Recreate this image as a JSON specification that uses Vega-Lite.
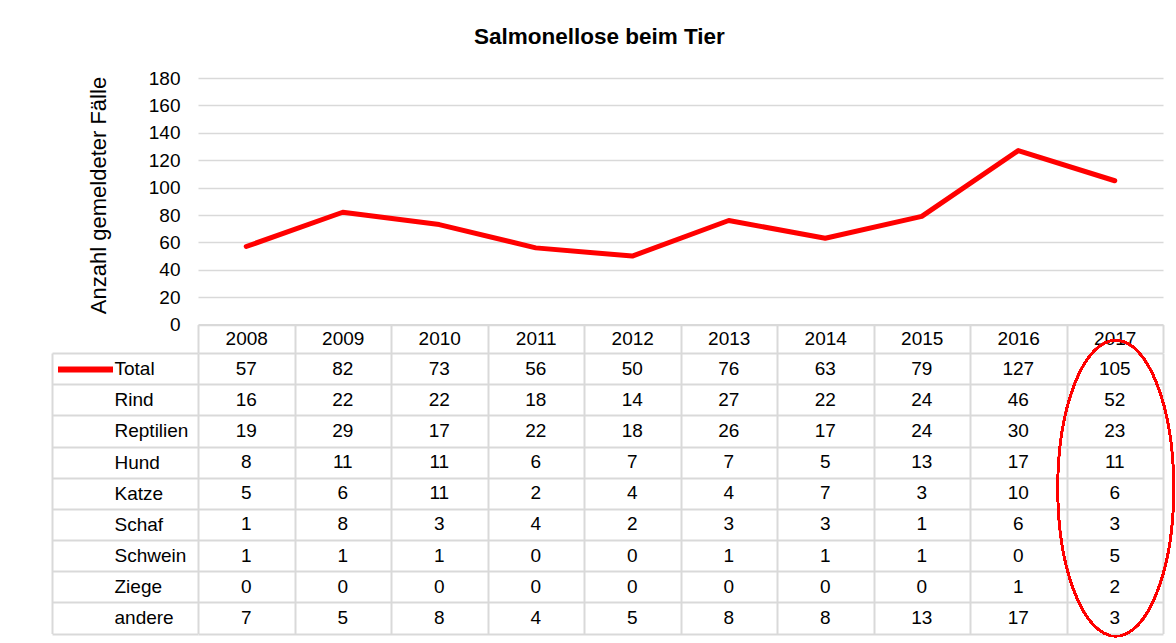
{
  "$schema": "https://vega.github.io/schema/vega-lite/v6.json",
  "padding": {"left": 51, "top": 25, "right": 0, "bottom": 0},
  "background": "white",
  "title": {"text": "Salmonellose beim Tier", "font": "Liberation Sans", "fontSize": 22.5, "fontWeight": "bold", "color": "#000000", "anchor": "middle", "offset": 21, "dx": -15},
  "datasets": {
    "table": [
      {"Tierart": "Total", "Jahr": "2008", "Faelle": 57}, {"Tierart": "Total", "Jahr": "2009", "Faelle": 82}, {"Tierart": "Total", "Jahr": "2010", "Faelle": 73}, {"Tierart": "Total", "Jahr": "2011", "Faelle": 56}, {"Tierart": "Total", "Jahr": "2012", "Faelle": 50}, {"Tierart": "Total", "Jahr": "2013", "Faelle": 76}, {"Tierart": "Total", "Jahr": "2014", "Faelle": 63}, {"Tierart": "Total", "Jahr": "2015", "Faelle": 79}, {"Tierart": "Total", "Jahr": "2016", "Faelle": 127}, {"Tierart": "Total", "Jahr": "2017", "Faelle": 105},
      {"Tierart": "Rind", "Jahr": "2008", "Faelle": 16}, {"Tierart": "Rind", "Jahr": "2009", "Faelle": 22}, {"Tierart": "Rind", "Jahr": "2010", "Faelle": 22}, {"Tierart": "Rind", "Jahr": "2011", "Faelle": 18}, {"Tierart": "Rind", "Jahr": "2012", "Faelle": 14}, {"Tierart": "Rind", "Jahr": "2013", "Faelle": 27}, {"Tierart": "Rind", "Jahr": "2014", "Faelle": 22}, {"Tierart": "Rind", "Jahr": "2015", "Faelle": 24}, {"Tierart": "Rind", "Jahr": "2016", "Faelle": 46}, {"Tierart": "Rind", "Jahr": "2017", "Faelle": 52},
      {"Tierart": "Reptilien", "Jahr": "2008", "Faelle": 19}, {"Tierart": "Reptilien", "Jahr": "2009", "Faelle": 29}, {"Tierart": "Reptilien", "Jahr": "2010", "Faelle": 17}, {"Tierart": "Reptilien", "Jahr": "2011", "Faelle": 22}, {"Tierart": "Reptilien", "Jahr": "2012", "Faelle": 18}, {"Tierart": "Reptilien", "Jahr": "2013", "Faelle": 26}, {"Tierart": "Reptilien", "Jahr": "2014", "Faelle": 17}, {"Tierart": "Reptilien", "Jahr": "2015", "Faelle": 24}, {"Tierart": "Reptilien", "Jahr": "2016", "Faelle": 30}, {"Tierart": "Reptilien", "Jahr": "2017", "Faelle": 23},
      {"Tierart": "Hund", "Jahr": "2008", "Faelle": 8}, {"Tierart": "Hund", "Jahr": "2009", "Faelle": 11}, {"Tierart": "Hund", "Jahr": "2010", "Faelle": 11}, {"Tierart": "Hund", "Jahr": "2011", "Faelle": 6}, {"Tierart": "Hund", "Jahr": "2012", "Faelle": 7}, {"Tierart": "Hund", "Jahr": "2013", "Faelle": 7}, {"Tierart": "Hund", "Jahr": "2014", "Faelle": 5}, {"Tierart": "Hund", "Jahr": "2015", "Faelle": 13}, {"Tierart": "Hund", "Jahr": "2016", "Faelle": 17}, {"Tierart": "Hund", "Jahr": "2017", "Faelle": 11},
      {"Tierart": "Katze", "Jahr": "2008", "Faelle": 5}, {"Tierart": "Katze", "Jahr": "2009", "Faelle": 6}, {"Tierart": "Katze", "Jahr": "2010", "Faelle": 11}, {"Tierart": "Katze", "Jahr": "2011", "Faelle": 2}, {"Tierart": "Katze", "Jahr": "2012", "Faelle": 4}, {"Tierart": "Katze", "Jahr": "2013", "Faelle": 4}, {"Tierart": "Katze", "Jahr": "2014", "Faelle": 7}, {"Tierart": "Katze", "Jahr": "2015", "Faelle": 3}, {"Tierart": "Katze", "Jahr": "2016", "Faelle": 10}, {"Tierart": "Katze", "Jahr": "2017", "Faelle": 6},
      {"Tierart": "Schaf", "Jahr": "2008", "Faelle": 1}, {"Tierart": "Schaf", "Jahr": "2009", "Faelle": 8}, {"Tierart": "Schaf", "Jahr": "2010", "Faelle": 3}, {"Tierart": "Schaf", "Jahr": "2011", "Faelle": 4}, {"Tierart": "Schaf", "Jahr": "2012", "Faelle": 2}, {"Tierart": "Schaf", "Jahr": "2013", "Faelle": 3}, {"Tierart": "Schaf", "Jahr": "2014", "Faelle": 3}, {"Tierart": "Schaf", "Jahr": "2015", "Faelle": 1}, {"Tierart": "Schaf", "Jahr": "2016", "Faelle": 6}, {"Tierart": "Schaf", "Jahr": "2017", "Faelle": 3},
      {"Tierart": "Schwein", "Jahr": "2008", "Faelle": 1}, {"Tierart": "Schwein", "Jahr": "2009", "Faelle": 1}, {"Tierart": "Schwein", "Jahr": "2010", "Faelle": 1}, {"Tierart": "Schwein", "Jahr": "2011", "Faelle": 0}, {"Tierart": "Schwein", "Jahr": "2012", "Faelle": 0}, {"Tierart": "Schwein", "Jahr": "2013", "Faelle": 1}, {"Tierart": "Schwein", "Jahr": "2014", "Faelle": 1}, {"Tierart": "Schwein", "Jahr": "2015", "Faelle": 1}, {"Tierart": "Schwein", "Jahr": "2016", "Faelle": 0}, {"Tierart": "Schwein", "Jahr": "2017", "Faelle": 5},
      {"Tierart": "Ziege", "Jahr": "2008", "Faelle": 0}, {"Tierart": "Ziege", "Jahr": "2009", "Faelle": 0}, {"Tierart": "Ziege", "Jahr": "2010", "Faelle": 0}, {"Tierart": "Ziege", "Jahr": "2011", "Faelle": 0}, {"Tierart": "Ziege", "Jahr": "2012", "Faelle": 0}, {"Tierart": "Ziege", "Jahr": "2013", "Faelle": 0}, {"Tierart": "Ziege", "Jahr": "2014", "Faelle": 0}, {"Tierart": "Ziege", "Jahr": "2015", "Faelle": 0}, {"Tierart": "Ziege", "Jahr": "2016", "Faelle": 1}, {"Tierart": "Ziege", "Jahr": "2017", "Faelle": 2},
      {"Tierart": "andere", "Jahr": "2008", "Faelle": 7}, {"Tierart": "andere", "Jahr": "2009", "Faelle": 5}, {"Tierart": "andere", "Jahr": "2010", "Faelle": 8}, {"Tierart": "andere", "Jahr": "2011", "Faelle": 4}, {"Tierart": "andere", "Jahr": "2012", "Faelle": 5}, {"Tierart": "andere", "Jahr": "2013", "Faelle": 8}, {"Tierart": "andere", "Jahr": "2014", "Faelle": 8}, {"Tierart": "andere", "Jahr": "2015", "Faelle": 13}, {"Tierart": "andere", "Jahr": "2016", "Faelle": 17}, {"Tierart": "andere", "Jahr": "2017", "Faelle": 3}
    ]
  },
  "spacing": 28,
  "bounds": "flush",
  "vconcat": [
    {
      "width": 965,
      "height": 246.6,
      "data": {"name": "table"},
      "transform": [{"filter": "datum.Tierart === 'Total'"}],
      "mark": {"type": "line", "strokeWidth": 5, "strokeCap": "round", "strokeJoin": "round"},
      "encoding": {
        "x": {
          "field": "Jahr", "type": "ordinal",
          "scale": {"type": "band", "paddingInner": 0, "paddingOuter": 0, "domain": ["2008","2009","2010","2011","2012","2013","2014","2015","2016","2017"]},
          "axis": {"title": null, "orient": "bottom", "labelAngle": 0, "labelFontSize": 19, "labelColor": "#000000", "labelBaseline": "middle", "labelPadding": -14, "tickBand": "extent", "tickSize": 28, "tickColor": "#d9d9d9", "tickWidth": 2, "domainColor": "#d9d9d9", "domainWidth": 2, "grid": false}
        },
        "y": {
          "field": "Faelle", "type": "quantitative",
          "scale": {"domain": [0, 180], "nice": false},
          "axis": {"title": "Anzahl gemeldeter Fälle", "titleFontSize": 22, "titleFontWeight": "normal", "titleColor": "#000000", "titlePadding": 38, "titleY": 117, "values": [0, 20, 40, 60, 80, 100, 120, 140, 160, 180], "labelFontSize": 19, "labelColor": "#000000", "labelPadding": 18, "ticks": false, "domain": false, "grid": true, "gridColor": "#d9d9d9", "gridWidth": 1.5}
        },
        "color": {
          "field": "Tierart", "type": "nominal",
          "scale": {"range": ["#ff0000"]},
          "legend": {"orient": "none", "legendX": -143, "legendY": 261, "title": null, "symbolType": "stroke", "symbolSize": 3025, "symbolStrokeWidth": 6, "labelExpr": "''", "padding": 0}
        }
      }
    },
    {
      "width": 965,
      "height": 280.5,
      "data": {"name": "table"},
      "layer": [
        {
          "mark": {"type": "text", "fontSize": 19, "color": "#000000", "baseline": "middle", "align": "center"},
          "encoding": {
            "x": {
              "field": "Jahr", "type": "ordinal",
              "scale": {"type": "band", "paddingInner": 0, "paddingOuter": 0, "domain": ["2008","2009","2010","2011","2012","2013","2014","2015","2016","2017"]},
              "axis": {"orient": "top", "title": null, "labels": false, "ticks": false, "domain": false, "grid": true, "tickBand": "extent", "gridColor": "#d9d9d9", "gridWidth": 2}
            },
            "y": {
              "field": "Tierart", "type": "nominal",
              "scale": {"type": "band", "paddingInner": 0, "paddingOuter": 0, "domain": ["Total","Rind","Reptilien","Hund","Katze","Schaf","Schwein","Ziege","andere"]},
              "axis": {"title": null, "orient": "left", "offset": 146, "domainColor": "#d9d9d9", "domainWidth": 2, "tickSize": -146, "tickBand": "extent", "tickColor": "#d9d9d9", "tickWidth": 2, "grid": true, "gridColor": "#d9d9d9", "gridWidth": 2, "labelAlign": "left", "labelPadding": 84, "labelFontSize": 19, "labelColor": "#000000", "labelBaseline": "middle"}
            },
            "text": {"field": "Faelle", "type": "quantitative"}
          }
        },
        {
          "mark": {"type": "point", "shape": "M -0.392 0 A 0.392 1 0 1 0 0.392 0 A 0.392 1 0 1 0 -0.392 0", "size": 87616, "filled": false, "stroke": "#ff0000", "strokeWidth": 2, "opacity": 1, "xOffset": 1, "yOffset": -5},
          "encoding": {
            "x": {"datum": "2017", "type": "ordinal"},
            "y": {"datum": "Katze", "type": "nominal"}
          }
        }
      ]
    }
  ],
  "resolve": {"scale": {"color": "independent"}, "legend": {"color": "independent"}},
  "config": {"view": {"stroke": null}, "font": "Liberation Sans", "text": {"font": "Liberation Sans"}}
}
